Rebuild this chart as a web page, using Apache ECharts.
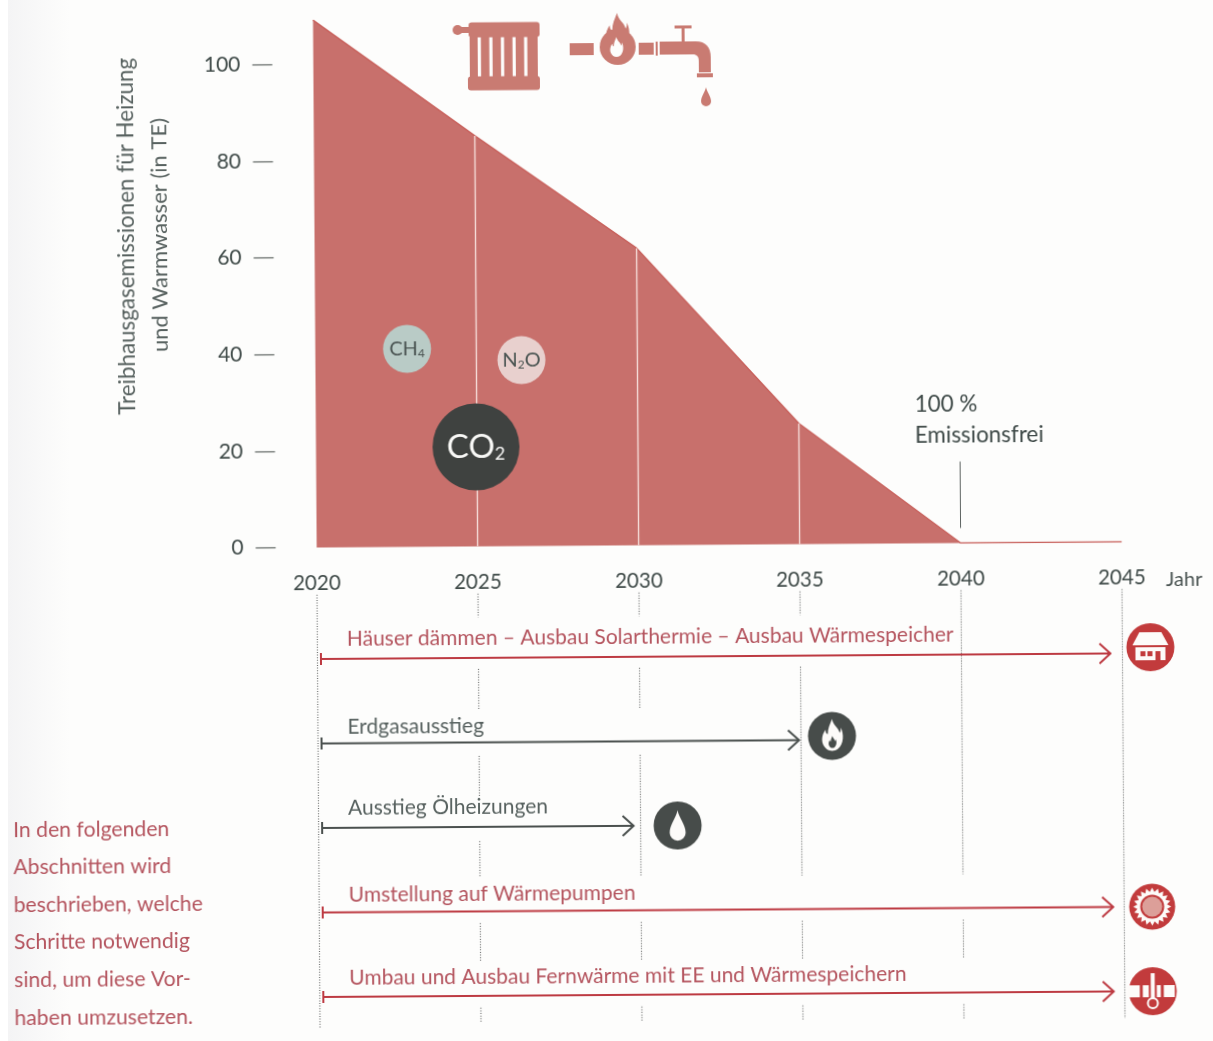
<!DOCTYPE html>
<html lang="de">
<head>
<meta charset="utf-8">
<title>Treibhausgasemissionen für Heizung und Warmwasser</title>
<style>
  html, body { margin: 0; padding: 0; width: 1213px; height: 1041px; overflow: hidden;
    background: linear-gradient(90deg, #ffffff 8px, #f4f4f5 8px, #fdfdfc 70px); }
  /* the printed page sits very slightly tilted */
  #chart { width: 1213px; height: 1041px; transform: rotate(-0.4deg); transform-origin: 606px 520px; }
</style>
</head>
<body>
<div id="chart"></div>
<script src="https://cdn.jsdelivr.net/npm/echarts@6/dist/echarts.min.js"></script>
<script>
// Emission path
const years = [2020, 2025, 2030, 2035, 2040, 2045];
const emissions = [109.2, 85, 61.5, 25, 0, 0];
const yTicks = [0, 20, 40, 60, 80, 100];
const emissionFreeYear = 2040;
const emissionFreeMark = [3.2, 16.8];

// Gas bubbles inside the area
const gasNames = ['CH4', 'N2O', 'CO2'];
const gasYears = [2022.85, 2026.4, 2024.97];
const gasLevels = [41, 38.5, 20.6];

// Measures, one row each
const taskNames = [
  'Häuser dämmen – Ausbau Solarthermie – Ausbau Wärmespeicher',
  'Erdgasausstieg',
  'Ausstieg Ölheizungen',
  'Umstellung auf Wärmepumpen',
  'Umbau und Ausbau Fernwärme mit EE und Wärmespeichern'
];
const taskStart = [2020, 2020, 2020, 2020, 2020];
const taskEnd = [2045, 2035, 2030, 2045, 2045];
const taskRows = [0, 1, 2, 3, 4];

// Dotted year guides below the chart, broken up around the measures
const guideRuns = [
  [2020, -0.76, 4.36],
  [2025, -0.76, -0.48], [2025, 0.13, 0.62], [2025, 1.16, 1.65], [2025, 2.17, 2.6], [2025, 3.14, 3.6], [2025, 4.14, 4.32],
  [2030, -0.76, -0.48], [2030, 0.13, 0.62], [2030, 1.16, 2.6], [2030, 3.14, 3.6], [2030, 4.14, 4.32],
  [2035, -0.76, -0.48], [2035, 0.13, 2.6], [2035, 3.14, 3.6], [2035, 4.14, 4.32],
  [2040, -0.76, 2.6], [2040, 3.14, 3.6], [2040, 4.14, 4.32],
  [2045, -0.76, 4.32]
];

const noteLines = ['In den folgenden', 'Abschnitten wird', 'beschrieben, welche', 'Schritte notwendig', 'sind, um diese Vor-', 'haben umzusetzen.'];

const FONT = 'Lato, "Noto Sans", sans-serif';
const AREA = '#c8706c';
const ICON = '#c97b72';
const RED = '#bd3a42';
const DARK = '#4a504e';
const RED_TEXT = '#b4545e';
const GREY_TEXT = '#586260';
const WHITE = '#fdfbf9';

// Per-row drawing details for the measures
const rowColors = [RED, DARK, DARK, RED, RED];
const rowTextColors = [RED_TEXT, GREY_TEXT, GREY_TEXT, RED_TEXT, RED_TEXT];
const rowTipGaps = [12, 2, 7, 11, 11];
const rowIconShifts = [[28, -6], [31, -4], [37, 0], [28, 0], [28, 0]];
const rowTextLifts = [20, 16, 20, 17, 19];

const FLAME = 'M10 0C11 6 16 8 17 13C18 11 18 10 18 8C21 14 21 23 15 28C12 30 8 30 5 28C-1 23 0 15 4 10C4 13 5 14 6 14C6 9 8 5 10 0Z';
const DROP = 'M10 0C12 10 20 18 20 28A10 10 0 0 1 0 28C0 18 8 10 10 0Z';

function houseIcon() {
  return [
    { type: 'circle', shape: { r: 24 }, style: { fill: '#c23b3c' } },
    { type: 'polygon', shape: { points: [[-11, -15], [11, -15], [18, -2], [-18, -2]] }, style: { fill: WHITE } },
    { type: 'rect', shape: { x: -15, y: 0, width: 30, height: 13 }, style: { fill: WHITE } },
    { type: 'rect', shape: { x: -10, y: 4, width: 5, height: 5 }, style: { fill: '#c23b3c' } },
    { type: 'rect', shape: { x: -3, y: 4, width: 5, height: 5 }, style: { fill: '#c23b3c' } },
    { type: 'rect', shape: { x: 5, y: 4, width: 5, height: 9 }, style: { fill: '#c23b3c' } }
  ];
}
function flameIcon() {
  return [
    { type: 'circle', shape: { r: 24 }, style: { fill: '#474c4a' } },
    { type: 'path', shape: { pathData: FLAME, x: -10, y: -17, width: 21, height: 32 }, style: { fill: WHITE } },
    { type: 'path', shape: { pathData: FLAME, x: -4, y: 0, width: 9, height: 12 }, style: { fill: '#474c4a' } }
  ];
}
function dropIcon() {
  return [
    { type: 'circle', shape: { r: 24 }, style: { fill: '#474c4a' } },
    { type: 'path', shape: { pathData: DROP, x: -8, y: -17, width: 16, height: 34 }, style: { fill: WHITE } }
  ];
}
function gearIcon() {
  const teeth = [];
  for (let i = 0; i < 40; i++) {
    const a = i * Math.PI / 20;
    const r = i % 2 ? 15 : 19;
    teeth.push([r * Math.cos(a), r * Math.sin(a)]);
  }
  return [
    { type: 'circle', shape: { r: 23 }, style: { fill: '#c23b3c' } },
    { type: 'polygon', shape: { points: teeth }, style: { fill: WHITE } },
    { type: 'circle', shape: { r: 12 }, style: { fill: '#c23b3c' } },
    { type: 'circle', shape: { r: 10 }, style: { fill: '#dc9f99' } }
  ];
}
function pipeIcon() {
  return [
    { type: 'circle', shape: { r: 24 }, style: { fill: '#c23b3c' } },
    { type: 'rect', shape: { x: -26, y: -6, width: 48, height: 12 }, style: { fill: WHITE } },
    { type: 'rect', shape: { x: -13, y: -6, width: 3, height: 12 }, style: { fill: '#c23b3c' } },
    { type: 'rect', shape: { x: 8, y: -6, width: 3, height: 12 }, style: { fill: '#c23b3c' } },
    { type: 'rect', shape: { x: -4, y: -18, width: 8, height: 26 }, style: { fill: '#c23b3c' } },
    { type: 'rect', shape: { x: -2, y: -18, width: 4, height: 26 }, style: { fill: WHITE } },
    { type: 'circle', shape: { cx: 0, cy: 12, r: 5 }, style: { fill: '#c23b3c', stroke: WHITE, lineWidth: 2 } }
  ];
}
const rowIcons = [houseIcon, flameIcon, dropIcon, gearIcon, pipeIcon];

// Radiator, burner and tap above the chart
function headerIcons() {
  const fill = { fill: ICON };
  const children = [
    { type: 'circle', shape: { cx: 458, cy: 29, r: 5 }, style: fill },
    { type: 'rect', shape: { x: 458, y: 26, width: 14, height: 6 }, style: fill },
    { type: 'rect', shape: { x: 469, y: 21.5, width: 71, height: 15, r: 3 }, style: fill },
    { type: 'rect', shape: { x: 468, y: 75.5, width: 72, height: 14, r: 3 }, style: fill },
    { type: 'rect', shape: { x: 470, y: 34, width: 68, height: 44 }, style: fill },
    { type: 'rect', shape: { x: 570, y: 43, width: 24, height: 12 }, style: fill },
    { type: 'circle', shape: { cx: 618, cy: 47, r: 18 }, style: fill },
    { type: 'path', shape: { pathData: FLAME, x: 601, y: 13, width: 34, height: 36 }, style: fill },
    { type: 'path', shape: { pathData: FLAME, x: 609, y: 37, width: 16, height: 20 }, style: { fill: '#fdfdfc' } },
    { type: 'rect', shape: { x: 639, y: 43, width: 15, height: 12 }, style: fill },
    { type: 'rect', shape: { x: 656, y: 42, width: 2, height: 14 }, style: fill },
    { type: 'path', shape: { pathData: 'M0 0H36C46 0 51 6 51 16V31H39V20C39 15 37 13 33 13H0Z', x: 660, y: 42, width: 51, height: 31 }, style: fill },
    { type: 'rect', shape: { x: 697, y: 74, width: 16, height: 4 }, style: fill },
    { type: 'rect', shape: { x: 682, y: 28, width: 3, height: 14 }, style: fill },
    { type: 'rect', shape: { x: 675, y: 26, width: 17, height: 3 }, style: fill },
    { type: 'path', shape: { pathData: DROP, x: 700, y: 88, width: 12, height: 19 }, style: fill }
  ];
  for (let i = 0; i < 5; i++) {
    children.push({ type: 'rect', shape: { x: 478 + i * 11.6, y: 36.5, width: 3.2, height: 39 }, style: { fill: '#fdfdfc' } });
  }
  return { type: 'group', x: 3, y: 0, children };
}

const chart = echarts.init(document.getElementById('chart'), null, { width: 1213, height: 1041 });

chart.setOption({
  animation: false,
  backgroundColor: 'transparent',
  textStyle: { fontFamily: FONT },
  grid: [
    { left: 316.5, width: 805, top: 17.7, height: 527.8 },
    { left: 316.5, width: 805, top: 589.4, height: 439.4 }
  ],
  xAxis: [
    {
      gridIndex: 0, type: 'value', min: 2020, max: 2045, interval: 5,
      axisLine: { show: false }, axisTick: { show: false }, splitLine: { show: false },
      axisLabel: { color: '#3f4a48', fontSize: 20.5, margin: 25, formatter: v => String(v) },
      name: 'Jahr', nameLocation: 'end', nameGap: 44,
      nameTextStyle: { color: '#4a5452', fontSize: 20, align: 'left', verticalAlign: 'top', padding: [28, 0, 0, 0] }
    },
    { gridIndex: 1, type: 'value', min: 2020, max: 2045, show: false }
  ],
  yAxis: [
    {
      gridIndex: 0, type: 'value', min: 0, max: 109.28, offset: 41,
      axisLine: { show: false }, splitLine: { show: false },
      axisTick: { show: true, length: 20, customValues: yTicks, lineStyle: { color: '#5e6462', width: 1.2 } },
      axisLabel: { color: '#3f4a48', fontSize: 21, margin: 32, customValues: yTicks }
    },
    { gridIndex: 1, type: 'value', min: -0.8, max: 4.4, inverse: true, show: false }
  ],
  graphic: [
    { type: 'text', x: 129, y: 233, rotation: Math.PI / 2, silent: true,
      style: { text: 'Treibhausgasemissionen für Heizung', fill: GREY_TEXT, font: '22.4px ' + FONT, textAlign: 'center', textVerticalAlign: 'middle' } },
    { type: 'text', x: 162, y: 232, rotation: Math.PI / 2, silent: true,
      style: { text: 'und Warmwasser (in TE)', fill: GREY_TEXT, font: '22px ' + FONT, textAlign: 'center', textVerticalAlign: 'middle' } },
    { type: 'text', x: 11, y: 807, silent: true,
      style: { text: noteLines.join('\n'), fill: RED_TEXT, font: '21.2px ' + FONT, lineHeight: 37.6 } }
  ],
  series: [
    {
      type: 'custom', coordinateSystem: 'none', silent: true, z: 1,
      data: [0],
      renderItem: () => headerIcons()
    },
    {
      type: 'line', xAxisIndex: 0, yAxisIndex: 0, z: 2,
      data: years.map((y, i) => [y, emissions[i]]),
      symbol: 'none',
      lineStyle: { color: '#c8625d', width: 1.5 },
      areaStyle: { color: AREA, opacity: 1 },
      markLine: {
        silent: true, symbol: 'none', z: 3,
        label: { show: false },
        lineStyle: { color: '#f5dcd8', width: 1.4, type: 'solid' },
        data: [2025, 2030, 2035].map(y => [{ coord: [y, 0] }, { coord: [y, emissions[years.indexOf(y)]] }])
      }
    },
    {
      // leader line and caption for the year without emissions
      type: 'line', xAxisIndex: 0, yAxisIndex: 0, z: 3, symbol: 'circle', symbolSize: 1, showSymbol: true,
      lineStyle: { color: '#5e6462', width: 1 },
      itemStyle: { color: '#5e6462' },
      data: [
        [emissionFreeYear, emissionFreeMark[0]],
        {
          value: [emissionFreeYear, emissionFreeMark[1]],
          label: {
            show: true, position: 'top', align: 'left', distance: 11, offset: [-45, 0],
            formatter: '100 %\nEmissionsfrei', color: '#3f4a48', fontSize: 22.4, lineHeight: 31
          }
        }
      ]
    },
    {
      type: 'scatter', xAxisIndex: 0, yAxisIndex: 0, z: 5,
      data: gasNames.map((n, i) => ({
        name: n,
        value: [gasYears[i], gasLevels[i]],
        symbolSize: n === 'CO2' ? 87 : 48,
        itemStyle: { color: n === 'CH4' ? '#b9cbc6' : n === 'N2O' ? '#e8d0ce' : '#3f4240', opacity: 1 },
        label: {
          show: true, position: 'inside',
          formatter: n === 'N2O' ? '{m|N}{s|2}{m|O}' : n === 'CH4' ? '{m|CH}{s|4}' : '{m|CO}{s|2}',
          rich: n === 'CO2'
            ? { m: { color: '#f8f8f6', fontSize: 33, fontFamily: FONT },
                s: { color: '#f8f8f6', fontSize: 18, fontFamily: FONT, padding: [14, 0, 0, 0] } }
            : { m: { color: '#4a5452', fontSize: 20, fontFamily: FONT },
                s: { color: '#4a5452', fontSize: 12, fontFamily: FONT, padding: [9, 0, 0, 0] } }
        }
      }))
    },
    {
      type: 'custom', xAxisIndex: 1, yAxisIndex: 1, z: 1, silent: true,
      data: guideRuns,
      encode: { x: 0, y: [1, 2] },
      renderItem: (params, api) => {
        const a = api.coord([api.value(0), api.value(1)]);
        const b = api.coord([api.value(0), api.value(2)]);
        return {
          type: 'line',
          shape: { x1: a[0], y1: a[1], x2: b[0], y2: b[1] },
          style: { stroke: '#6f7170', lineWidth: 1.2, lineDash: [1, 1.6] }
        };
      }
    },
    {
      type: 'custom', xAxisIndex: 1, yAxisIndex: 1, z: 4, silent: true,
      data: taskRows.map((r, i) => [taskStart[i], taskEnd[i], r]),
      encode: { x: [0, 1], y: 2 },
      renderItem: (params, api) => {
        const i = params.dataIndex;
        const start = api.coord([api.value(0), api.value(2)]);
        const end = api.coord([api.value(1), api.value(2)]);
        const x0 = start[0] + 3.5;
        const y = start[1];
        const tip = end[0] - rowTipGaps[i];
        const stroke = { stroke: rowColors[i], lineWidth: 2, fill: 'none' };
        const shift = rowIconShifts[i];
        return {
          type: 'group',
          children: [
            { type: 'line', shape: { x1: x0, y1: y, x2: tip, y2: y }, style: stroke },
            { type: 'line', shape: { x1: x0, y1: y - 6, x2: x0, y2: y + 6 }, style: stroke },
            { type: 'polyline', shape: { points: [[tip - 11, y - 10], [tip, y], [tip - 11, y + 10]] }, style: stroke },
            { type: 'text', x: x0 + 26, y: y - rowTextLifts[i],
              style: { text: taskNames[i], fill: rowTextColors[i], font: '21px ' + FONT, textAlign: 'left', textVerticalAlign: 'middle' } },
            { type: 'group', x: end[0] + shift[0], y: y + shift[1], children: rowIcons[i]() }
          ]
        };
      }
    }
  ]
});
</script>
</body>
</html>
